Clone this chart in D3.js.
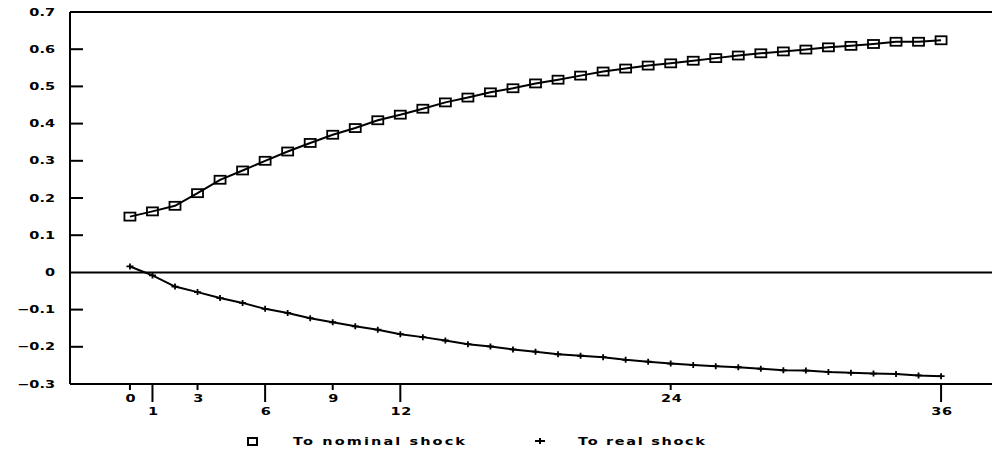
<!DOCTYPE html>
<html>
<head>
<meta charset="utf-8">
<script src="https://cdn.jsdelivr.net/npm/d3@7"></script>
<style>
  body { margin: 0; background: #fff; }
  svg { display: block; }
  text { font-family: "DejaVu Sans", sans-serif; font-weight: bold; fill: #000; font-size: 10px; }
</style>
</head>
<body>
<div id="chart"></div>
<script>
// months after the shock
const months = d3.range(0, 37);

// response to nominal shock (squares)
const nominal = [0.150, 0.164, 0.179, 0.213, 0.249, 0.274, 0.300, 0.325, 0.348, 0.370,
                 0.388, 0.409, 0.424, 0.440, 0.457, 0.470, 0.484, 0.495, 0.508, 0.518,
                 0.529, 0.540, 0.548, 0.556, 0.562, 0.569, 0.576, 0.583, 0.589, 0.594,
                 0.599, 0.605, 0.609, 0.614, 0.620, 0.620, 0.624];

// response to real shock (plus)
const real = [0.016, -0.008, -0.038, -0.053, -0.069, -0.082, -0.098, -0.109, -0.123, -0.134,
              -0.145, -0.154, -0.166, -0.174, -0.183, -0.193, -0.199, -0.207, -0.213, -0.220,
              -0.224, -0.228, -0.235, -0.240, -0.245, -0.249, -0.252, -0.255, -0.259, -0.263,
              -0.264, -0.268, -0.270, -0.272, -0.273, -0.277, -0.279];

const yTicks = [0.7, 0.6, 0.5, 0.4, 0.3, 0.2, 0.1, 0, -0.1, -0.2, -0.3];
const xTicksHigh = [0, 3, 9, 24];   // short ticks, label close to axis
const xTicksLow  = [1, 6, 12, 36];  // long ticks, label lower
const legendLabels = ["To nominal shock", "To real shock"];

// 1. Size & scales
const width = 992, height = 455;
const x = d3.scaleLinear().domain([-2.66, 38.26]).range([70, 992]);
const y = d3.scaleLinear().domain([-0.3, 0.7]).range([384, 12]);
const sx = 1.45; // plotter font is wide: stretch text horizontally

const svg = d3.select("#chart").append("svg")
  .attr("width", width)
  .attr("height", height);

// 2. Frame: top line, left axis, bottom axis, zero line
const frame = svg.append("g").attr("stroke", "#000").attr("stroke-width", 2);
frame.append("line")
  .attr("x1", x.range()[0]).attr("x2", x.range()[1])
  .attr("y1", y(0.7)).attr("y2", y(0.7));
frame.append("line")
  .attr("x1", x.range()[0]).attr("x2", x.range()[1])
  .attr("y1", y(-0.3)).attr("y2", y(-0.3));
frame.append("line")
  .attr("x1", x.range()[0]).attr("x2", x.range()[1])
  .attr("y1", y(0)).attr("y2", y(0));
frame.append("line")
  .attr("x1", x.range()[0]).attr("x2", x.range()[0])
  .attr("y1", y(0.7)).attr("y2", y(-0.3));

// 3. Y ticks (inward) + labels
frame.selectAll("line.ytick")
  .data(yTicks.filter(v => v !== 0.7 && v !== -0.3 && v !== 0))
  .join("line")
  .attr("class", "ytick")
  .attr("x1", x.range()[0]).attr("x2", x.range()[0] + 13)
  .attr("y1", d => y(d)).attr("y2", d => y(d));

svg.selectAll("text.ylab")
  .data(yTicks)
  .join("text")
  .attr("class", "ylab")
  .attr("transform", d => `translate(55,${y(d)}) scale(${sx},1)`)
  .attr("dy", "0.36em")
  .attr("text-anchor", "end")
  .text(d => d === 0 ? "0" : (d < 0 ? "\u2212" : "") + Math.abs(d).toFixed(1));

// 4. X ticks (downward) + labels, two rows
frame.selectAll("line.xtick")
  .data(xTicksHigh.map(v => [v, 6]).concat(xTicksLow.map(v => [v, 18])))
  .join("line")
  .attr("class", "xtick")
  .attr("x1", d => x(d[0])).attr("x2", d => x(d[0]))
  .attr("y1", y(-0.3)).attr("y2", d => y(-0.3) + d[1]);

svg.selectAll("text.xlab")
  .data(xTicksHigh.map(v => [v, 398]).concat(xTicksLow.map(v => [v, 411])))
  .join("text")
  .attr("class", "xlab")
  .attr("transform", d => `translate(${x(d[0]) + 1},${d[1]}) scale(${sx},1)`)
  .attr("dy", "0.36em")
  .attr("text-anchor", "middle")
  .style("letter-spacing", "0.5px")
  .text(d => d[0]);

// 5. Lines
const line = d3.line().x((d, i) => x(months[i])).y(d => y(d));
svg.append("path").datum(nominal)
  .attr("d", line).attr("fill", "none").attr("stroke", "#000").attr("stroke-width", 2);
svg.append("path").datum(real)
  .attr("d", line).attr("fill", "none").attr("stroke", "#000").attr("stroke-width", 2);

// 6. Markers
svg.selectAll("rect.sq")
  .data(nominal)
  .join("rect")
  .attr("class", "sq")
  .attr("x", (d, i) => x(months[i]) - 5.5)
  .attr("y", d => y(d) - 4)
  .attr("width", 11).attr("height", 8)
  .attr("fill", "none").attr("stroke", "#000").attr("stroke-width", 1.8);

const plus = "M-3.5,0H3.5M0,-3V3";
svg.selectAll("path.pl")
  .data(real)
  .join("path")
  .attr("class", "pl")
  .attr("transform", (d, i) => `translate(${x(months[i])},${y(d)})`)
  .attr("d", plus)
  .attr("stroke", "#000").attr("stroke-width", 1.8);

// 7. Legend
const lg = svg.append("g");
lg.append("rect")
  .attr("x", 248).attr("y", 438)
  .attr("width", 9).attr("height", 7)
  .attr("fill", "none").attr("stroke", "#000").attr("stroke-width", 2);
lg.append("text")
  .attr("transform", `translate(293,441) scale(${sx},1)`)
  .attr("dy", "0.36em")
  .attr("textLength", 172 / sx).attr("lengthAdjust", "spacing")
  .text(legendLabels[0]);
lg.append("path")
  .attr("transform", "translate(540,441)")
  .attr("d", "M-5,0H5M0,-3V3")
  .attr("stroke", "#000").attr("stroke-width", 2);
lg.append("text")
  .attr("transform", `translate(578,441) scale(${sx},1)`)
  .attr("dy", "0.36em")
  .attr("textLength", 127 / sx).attr("lengthAdjust", "spacing")
  .text(legendLabels[1]);
</script>
</body>
</html>
